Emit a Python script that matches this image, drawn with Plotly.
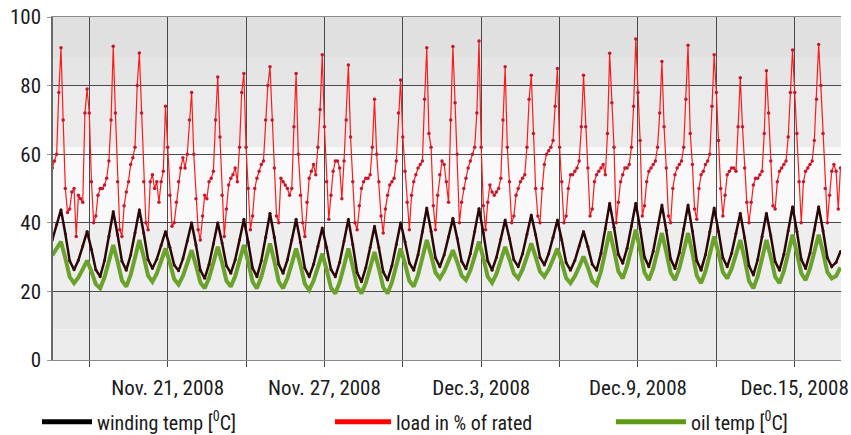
import pandas as pd
import plotly.graph_objects as go

# ---------------- data ----------------
start_day = "2008-11-16"          # first calendar day shown
load_hours = [0, 2, 4, 6, 8, 10, 12, 14, 16, 18, 20, 22]
temp_hours = [2, 6, 10, 14, 18, 22]

# load in % of rated, one row per day (values at load_hours)
load_pct = [
    [None, None, None, None, None, None, None, 56, 58, 60, 78, 91],   # Nov 16
    [70, 50, 43, 44, 49, 50, 36, 48, 47, 46, 72, 79],                 # Nov 17
    [72, 52, 40, 42, 48, 50, 50, 51, 53, 58, 70, 91.5],
    [72, 52, 38, 36, 45, 49, 52, 57, 59, 62, 80, 89.5],
    [72, 52, 40, 38, 52, 54, 50, 52, 46, 52, 55, 74],
    [62, 48, 39, 40, 46, 52, 56, 59, 56, 60, 70, 78],
    [60, 47, 38, 35, 42, 48, 47, 52, 53, 55, 70, 82.5],
    [65, 48, 36, 44, 51, 53, 54, 56, 52, 62, 78, 83.5],
    [62, 50, 38, 42, 50, 53, 55, 57, 58, 70, 80, 85.5],
    [70, 56, 42, 40, 53, 52, 51, 50, 48, 50, 68, 83.5],
    [60, 48, 40, 36, 46, 53, 55, 57, 54, 62, 73, 89],
    [68, 52, 41, 48, 55, 58, 58, 56, 47, 58, 70, 86],
    [65, 52, 40, 38, 45, 50, 52, 53, 53, 54, 62, 76],
    [60, 52, 42, 37, 44, 48, 51, 52, 53, 58, 72, 81.6],
    [65, 55, 46, 38, 48, 52, 54, 56, 57, 58, 76, 91],                 # Nov 30
    [66, 62, 45, 38, 48, 54, 58, 57, 52, 46, 70, 91.4],               # Dec 1
    [75, 60, 40, 46, 50, 53, 56, 58, 60, 62, 72, 93],
    [62, 45, 38, 46, 51, 49, 48, 49, 50, 53, 70, 85.5],
    [62, 52, 40, 42, 48, 50, 52, 53, 54, 62, 76, 83],
    [66, 50, 42, 40, 50, 57, 60, 61, 62, 64, 74, 85],
    [62, 52, 40, 42, 50, 54, 54, 55, 56, 58, 68, 83],
    [68, 56, 42, 44, 52, 54, 55, 56, 57, 54, 66, 89.4],
    [75, 62, 40, 46, 52, 54, 56, 56, 57, 62, 74, 93.6],
    [78, 64, 42, 45, 52, 55, 56, 57, 58, 62, 72, 87],
    [68, 56, 42, 40, 50, 54, 56, 57, 58, 62, 76, 91.8],
    [66, 57, 44, 41, 50, 54, 55, 57, 58, 60, 74, 89],
    [78, 64, 50, 42, 48, 54, 55, 56, 56, 55, 68, 82.3],
    [68, 56, 46, 40, 46, 51, 53, 53, 54, 55, 66, 84.3],
    [72, 58, 45, 44, 52, 55, 56, 57, 58, 65, 78, 90.4],
    [78, 66, 52, 40, 52, 55, 56, 57, 58, 64, 76, 92],                 # Dec 15
    [80, 66, 50, 40, 48, 55, 57, 55, 44, 56, None, None],             # Dec 16
]

# winding temp [°C], one row per day (values at temp_hours)
winding_temp = [
    [None, None, None, 35.0, 39.5, 43.8],
    [36.8, 28.9, 26.3, 29.1, 33.2, 37.5],
    [32.2, 26.3, 24.3, 29.0, 36.1, 43.3],
    [36.5, 28.8, 26.2, 30.6, 37.1, 43.8],
    [37.0, 29.3, 26.7, 29.4, 33.4, 37.5],
    [32.9, 27.7, 26.0, 29.5, 34.7, 40.0],
    [33.5, 26.2, 23.8, 27.9, 33.8, 40.0],
    [34.1, 27.5, 25.3, 29.2, 35.0, 41.0],
    [34.3, 26.8, 24.3, 28.9, 35.8, 42.8],
    [35.8, 27.9, 25.3, 29.2, 35.0, 41.0],
    [34.3, 26.8, 24.3, 27.9, 33.1, 38.5],
    [32.8, 26.4, 24.3, 28.5, 34.7, 41.0],
    [33.7, 25.5, 22.8, 26.9, 32.8, 39.0],
    [32.7, 25.7, 23.3, 27.5, 33.7, 40.0],
    [34.5, 28.3, 26.2, 30.7, 37.4, 44.3],
    [37.5, 29.8, 27.2, 30.7, 35.9, 41.3],
    [35.4, 28.8, 26.6, 31.0, 37.5, 44.2],
    [37.0, 28.9, 26.2, 29.9, 35.3, 40.8],
    [35.4, 29.2, 27.2, 31.0, 36.6, 42.3],
    [36.5, 29.9, 27.7, 31.0, 35.8, 40.8],
    [35.0, 28.4, 26.2, 29.0, 33.2, 37.5],
    [33.0, 27.9, 26.2, 31.1, 38.3, 45.7],
    [38.7, 30.8, 28.2, 32.6, 39.1, 45.7],
    [38.3, 30.0, 27.2, 31.7, 38.4, 45.2],
    [37.8, 29.5, 26.7, 31.3, 38.2, 45.2],
    [37.6, 29.0, 26.2, 30.7, 37.4, 44.3],
    [37.5, 29.8, 27.2, 31.1, 36.9, 42.8],
    [35.6, 27.5, 24.8, 29.3, 36.0, 42.8],
    [36.2, 28.7, 26.2, 30.8, 37.7, 44.7],
    [37.5, 29.4, 26.7, 31.2, 37.9, 44.7],
    [37.7, 29.8, 27.2, 28.5, 31.6, None],
]

# oil temp [°C], one row per day (values at temp_hours)
oil_temp = [
    [None, None, None, 30.5, 32.5, 34.5],
    [29.7, 24.2, 22.4, 24.1, 26.5, 29.0],
    [25.8, 22.1, 20.9, 24.1, 28.7, 33.5],
    [28.7, 23.2, 21.4, 24.8, 29.8, 35.0],
    [30.1, 24.6, 22.8, 25.2, 28.8, 32.5],
    [28.3, 23.6, 22.0, 24.5, 28.2, 32.0],
    [27.6, 22.6, 20.9, 23.9, 28.4, 33.0],
    [28.4, 23.1, 21.4, 24.4, 28.9, 33.5],
    [28.5, 22.8, 20.9, 24.2, 29.0, 34.0],
    [28.8, 22.9, 20.9, 23.8, 28.1, 32.5],
    [27.7, 22.2, 20.4, 23.1, 27.0, 31.0],
    [26.4, 21.1, 19.4, 22.7, 27.5, 32.5],
    [27.3, 21.4, 19.4, 22.4, 26.9, 31.5],
    [26.7, 21.2, 19.4, 22.7, 27.5, 32.5],
    [28.1, 23.1, 21.4, 24.8, 29.8, 35.0],
    [30.5, 25.5, 23.8, 25.9, 28.9, 32.0],
    [28.5, 24.6, 23.3, 26.1, 30.2, 34.5],
    [29.7, 24.3, 22.5, 25.1, 29.0, 33.0],
    [29.3, 25.2, 23.8, 26.4, 30.1, 34.0],
    [30.1, 25.8, 24.3, 26.4, 29.4, 32.5],
    [28.5, 23.9, 22.4, 24.4, 27.2, 30.2],
    [26.9, 23.1, 21.9, 25.8, 31.6, 37.5],
    [32.0, 25.9, 23.8, 27.4, 32.6, 38.0],
    [32.1, 25.5, 23.3, 26.7, 31.8, 37.0],
    [31.5, 25.4, 23.3, 26.7, 31.8, 37.0],
    [31.2, 24.6, 22.4, 25.8, 30.8, 36.0],
    [31.1, 25.6, 23.8, 26.6, 30.7, 35.0],
    [29.4, 23.0, 20.9, 24.4, 29.6, 35.0],
    [30.0, 24.3, 22.4, 25.9, 31.1, 36.5],
    [31.2, 25.3, 23.3, 26.6, 31.5, 36.5],
    [31.4, 25.6, 23.8, 24.5, 27.0, None],
]

# x-axis: labelled ticks every 6 days, gridlines every 3 days
label_dates = ["2008-11-21", "2008-11-27", "2008-12-03", "2008-12-09", "2008-12-15"]
label_texts = ["Nov. 21, 2008", "Nov. 27, 2008", "Dec.3, 2008", "Dec.9, 2008", "Dec.15, 2008"]
grid_dates = ["2008-11-18", "2008-11-21", "2008-11-24", "2008-11-27", "2008-11-30",
              "2008-12-03", "2008-12-06", "2008-12-09", "2008-12-12", "2008-12-15"]
y_ticks = [0, 20, 40, 60, 80, 100]

series_names = ["winding temp [<sup>0</sup>C]", "load in % of rated", "oil temp [<sup>0</sup>C]"]
x_range = ["2008-11-16 14:40", "2008-12-16 18:30"]


# ---------------- build series ----------------
def flatten(rows, hours):
    days = pd.date_range(start_day, periods=len(rows), freq="D")
    xs, ys = [], []
    for d, row in zip(days, rows):
        for h, v in zip(hours, row):
            if v is None:
                continue
            xs.append(d + pd.Timedelta(hours=h))
            ys.append(v)
    return xs, ys


lx, ly = flatten(load_pct, load_hours)
wx, wy = flatten(winding_temp, temp_hours)
ox, oy = flatten(oil_temp, temp_hours)

RED = "#ff1a1a"
DARK = "#2a0606"
GREEN = "#6aa22c"
FONT = "Liberation Sans Narrow, Arial Narrow, Roboto Condensed, DejaVu Sans Condensed, sans-serif"
GRID = "#4a4a4a"

fig = go.Figure()

# data traces
fig.add_trace(go.Scatter(x=ox, y=oy, mode="lines", line=dict(color=GREEN, width=4),
                         showlegend=False, hoverinfo="skip"))
fig.add_trace(go.Scatter(x=wx, y=wy, mode="lines+markers", line=dict(color=DARK, width=2.5),
                         marker=dict(color="#3c0a0a", size=3), showlegend=False, hoverinfo="skip"))
fig.add_trace(go.Scatter(x=lx, y=ly, mode="lines+markers", line=dict(color=RED, width=1.2),
                         marker=dict(color="#c41830", size=3.5), showlegend=False, hoverinfo="skip"))

# legend entries (one legend box per entry, spread along the bottom)
legend_ids = ["legend", "legend2", "legend3"]
legend_cols = ["#000000", "#ff0000", "#5e9a10"]
for name, col, lid in zip(series_names, legend_cols, legend_ids):
    fig.add_trace(go.Scatter(x=[None], y=[None], mode="lines", name=name, legend=lid,
                             line=dict(color=col, width=5)))

# background bands
bands = [(88, 100, "#e0e0e0"), (80, 88, "#e5e5e5"), (62, 80, "#ebebeb"),
         (40, 62, "#f9f9f9"), (20, 40, "#eeeeee"), (9, 20, "#e7e7e7"), (0, 9, "#ececec")]
for y0, y1, c in bands:
    fig.add_shape(type="rect", xref="paper", yref="y", x0=0, x1=1, y0=y0, y1=y1,
                  fillcolor=c, line_width=0, layer="below")


def legend_box(x, iw):
    return dict(orientation="h", x=x, xanchor="left", y=-0.18, yanchor="middle",
                itemwidth=iw, font=dict(family=FONT, size=20, color="#1a1a1a"),
                bgcolor="rgba(0,0,0,0)")


fig.update_layout(
    width=851, height=435,
    margin=dict(l=53, r=10, t=17, b=75, autoexpand=False),
    paper_bgcolor="white", plot_bgcolor="white",
    font=dict(family=FONT, size=21, color="#1a1a1a"),
    legend=legend_box(-0.0203, 50),
    legend2=legend_box(0.3515, 56),
    legend3=legend_box(0.708, 70),
    xaxis=dict(type="date", range=x_range, tickmode="array", tickvals=label_dates,
               ticktext=label_texts, showgrid=True, gridcolor=GRID, gridwidth=1.2,
               ticks="outside", ticklen=6, tickcolor=GRID, tickwidth=1.2,
               minor=dict(tickmode="array", tickvals=grid_dates, showgrid=True,
                          gridcolor=GRID, gridwidth=1.2, ticks="outside", ticklen=6,
                          tickcolor=GRID, tickwidth=1.2),
               showline=True, linecolor="#8a8a8a", linewidth=1.2, mirror=True,
               zeroline=False, ticklabelstandoff=3, tickangle=0,
               ticklabeloverflow="allow"),
    yaxis=dict(range=[0, 100], tickmode="array", tickvals=y_ticks,
               showgrid=True, gridcolor=GRID, gridwidth=1.2,
               ticks="outside", ticklen=4, tickcolor="#999999",
               showline=True, linecolor="#6a6a6a", linewidth=1.5,
               zeroline=False, ticklabelstandoff=2),
)

fig.write_html("out.html", config={"displayModeBar": False},
               post_script="document.body.style.margin='0px';")
